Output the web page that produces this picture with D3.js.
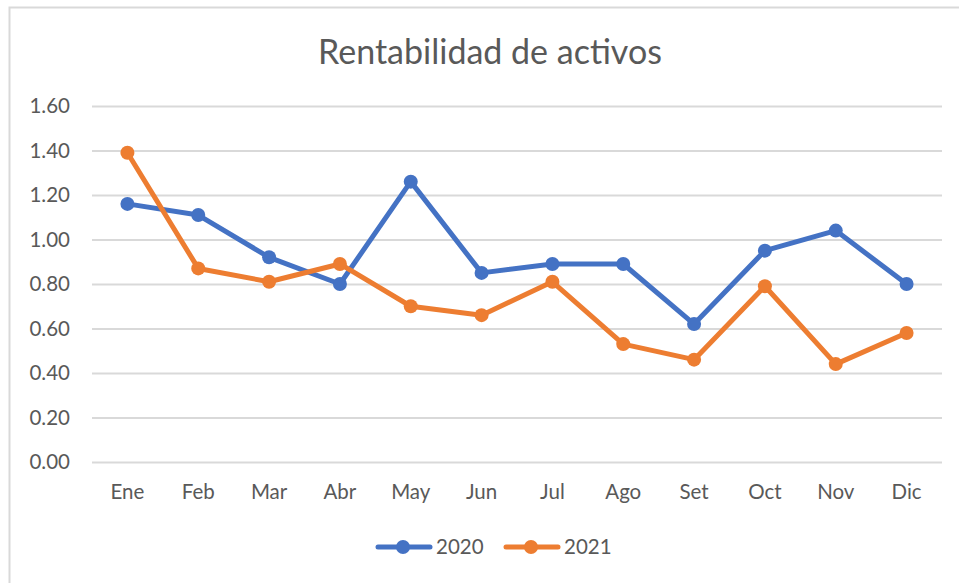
<!DOCTYPE html>
<html>
<head>
<meta charset="utf-8">
<script src="https://cdn.jsdelivr.net/npm/d3@7"></script>
<style>
  body { margin: 0; background: #fff; }
  text { font-family: Lato, "Open Sans", sans-serif; fill: #595959; }
</style>
</head>
<body>
<div id="root"></div>
<script>
const months = ["Ene", "Feb", "Mar", "Abr", "May", "Jun", "Jul", "Ago", "Set", "Oct", "Nov", "Dic"];
const values2020 = [1.16, 1.11, 0.92, 0.80, 1.26, 0.85, 0.89, 0.89, 0.62, 0.95, 1.04, 0.80];
const values2021 = [1.39, 0.87, 0.81, 0.89, 0.70, 0.66, 0.81, 0.53, 0.46, 0.79, 0.44, 0.58];
const yTicks = [0, 0.2, 0.4, 0.6, 0.8, 1.0, 1.2, 1.4, 1.6];

const series = [
  { name: "2020", values: values2020, color: "#4472C4" },
  { name: "2021", values: values2021, color: "#ED7D31" },
];

const width = 959;
const height = 583;
const margin = { top: 106, left: 92, right: 17, bottom: 121 };
const innerWidth = width - margin.left - margin.right;
const innerHeight = height - margin.top - margin.bottom;

const svg = d3.select("#root")
  .append("svg")
  .attr("width", width)
  .attr("height", height)
  .style("display", "block");

// chart frame (right and bottom edges fall outside the picture)
svg.append("path")
  .attr("d", `M9.5,${height} V7.5 H${width}`)
  .attr("fill", "none")
  .attr("stroke", "#d9d9d9")
  .attr("stroke-width", 2);

svg.append("text")
  .attr("x", 490).attr("y", 64)
  .attr("text-anchor", "middle")
  .style("font-size", "34px")
  .text("Rentabilidad de activos");

const g = svg.append("g")
  .attr("transform", `translate(${margin.left}, ${margin.top})`);

const xScale = d3.scaleBand().domain(months).range([0, innerWidth]);
const yScale = d3.scaleLinear().domain([0, 1.6]).range([innerHeight, 0]);

// gridlines + left labels
const leftAxis = d3.axisLeft(yScale)
  .tickValues(yTicks)
  .tickFormat(d3.format(".2f"))
  .tickSize(-innerWidth)
  .tickPadding(22);

g.append("g")
  .call(leftAxis)
  .call((ax) => ax.select(".domain").remove())
  .call((ax) => ax.selectAll("line").attr("stroke", "#d9d9d9").attr("stroke-width", 2))
  .call((ax) => ax.selectAll("text").style("font-size", "20.5px").attr("fill", "#595959"));

const bottomAxis = d3.axisBottom(xScale).tickSize(0).tickPadding(22);

g.append("g")
  .attr("transform", `translate(0, ${innerHeight})`)
  .call(bottomAxis)
  .call((ax) => ax.select(".domain").remove())
  .call((ax) => ax.selectAll("text").style("font-size", "20.5px").attr("fill", "#595959"));

const line = d3.line()
  .x((d, i) => xScale(months[i]) + xScale.bandwidth() / 2)
  .y((d) => yScale(d));

series.forEach((s) => {
  g.append("path")
    .datum(s.values)
    .attr("d", line)
    .attr("fill", "none")
    .attr("stroke", s.color)
    .attr("stroke-width", 5)
    .attr("stroke-linejoin", "round");

  g.selectAll(null)
    .data(s.values)
    .join("circle")
    .attr("cx", (d, i) => xScale(months[i]) + xScale.bandwidth() / 2)
    .attr("cy", (d) => yScale(d))
    .attr("r", 7)
    .attr("fill", s.color);
});

// legend
const legend = svg.append("g").attr("transform", "translate(376, 547)");
const items = legend.selectAll("g")
  .data(series)
  .join("g")
  .attr("transform", (d, i) => `translate(${i * 128}, 0)`);

items.append("line")
  .attr("x1", 2).attr("x2", 54)
  .attr("stroke", (d) => d.color)
  .attr("stroke-width", 5)
  .attr("stroke-linecap", "round");

items.append("circle")
  .attr("cx", 27).attr("r", 7)
  .attr("fill", (d) => d.color);

items.append("text")
  .attr("x", 60).attr("dy", "0.35em")
  .style("font-size", "20.5px")
  .text((d) => d.name);
</script>
</body>
</html>
